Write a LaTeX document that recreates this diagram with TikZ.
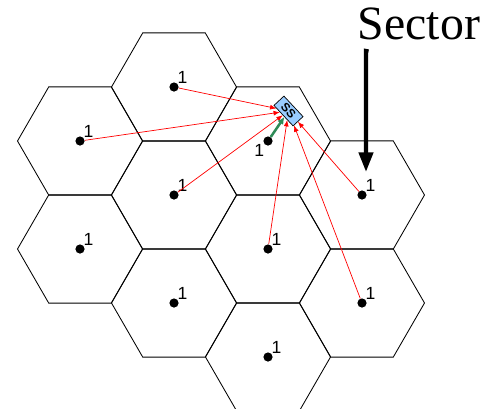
\documentclass[tikz,border=0pt]{standalone}
\usepackage{fontspec}
\setmainfont{Liberation Serif}
\newfontfamily\arialfont{Liberation Sans}
\usepackage{tikz}
\usetikzlibrary{arrows.meta}

\definecolor{linkred}{RGB}{255,0,0}
\definecolor{linkgreen}{RGB}{46,139,87}
\definecolor{ssblue}{RGB}{153,204,255}

\begin{document}
\begin{tikzpicture}[x=0.025cm,y=-0.025cm,
  hexcell/.style={draw=black,line width=0.6pt},
  dot/.style={circle,fill=black,inner sep=0pt,minimum size=0.23cm},
  lbl/.style={inner sep=0pt,font=\arialfont\fontsize{12.5}{12.5}\selectfont},
  ssbox/.style={draw=black,fill=ssblue,line width=0.5pt,inner sep=0pt,
    minimum width=0.7cm,minimum height=0.34cm,
    font=\arialfont\bfseries\fontsize{8.5}{8.5}\selectfont},
  redlink/.style={draw=linkred,line width=0.5pt,-{Latex[length=4.5pt,width=3.5pt]}},
  greenlink/.style={draw=linkgreen,line width=1.8pt,-{Latex[length=5pt,width=5pt]}}]
\useasboundingbox (0,0) rectangle (482,410);
\clip (0,0) rectangle (482,408.5);

% cells
\foreach \x/\y in {80/141,80/249,174/87,174/195,174/303,268/141,268/249,268/357,362/195,362/303}
  \draw[hexcell] (\x,\y) ++(62.5,0) -- ++(-31.25,54.13) -- ++(-62.5,0)
    -- ++(-31.25,-54.13) -- ++(31.25,-54.13) -- ++(62.5,0) -- cycle;

% base stations
\node[dot,label={[lbl]45:1}] (b1) at (174,87) {};
\node[dot,label={[lbl]45:1}] (b2) at (80,141) {};
\node[dot,label={[lbl]45:1}] (b3) at (174,195) {};
\node[dot,label={[lbl]45:1}] (b4) at (268,249) {};
\node[dot,label={[lbl]45:1}] (b5) at (362,195) {};
\node[dot,label={[lbl]45:1}] (b6) at (362,303) {};
\node[dot,label={[lbl]45:1}] (b7) at (80,249) {};
\node[dot,label={[lbl]45:1}] (b8) at (174,303) {};
\node[dot,label={[lbl]45:1}] (b9) at (268,357) {};
\node[dot,label={[lbl]225:1}] (b0) at (268,141) {};

% subscriber station
\node[ssbox,rotate=-47] (ss) at (288.5,111) {SS};

\foreach \b in {b1,b2,b3,b4,b5,b6}
  \draw[redlink] (\b) -- (ss);
\draw[greenlink] (b0) -- (ss);

% sector label
\node[anchor=base,inner sep=0pt,font=\fontsize{34}{34}\selectfont] (sec) at (419,39) {Sector};
\coordinate (tail) at (366,51);
\coordinate (tip) at (366,172);
\draw[line width=3pt,-{Triangle[length=14pt,width=10pt]}] (368.5,51.5) -- (tail) -- (tip);
\end{tikzpicture}
\end{document}
